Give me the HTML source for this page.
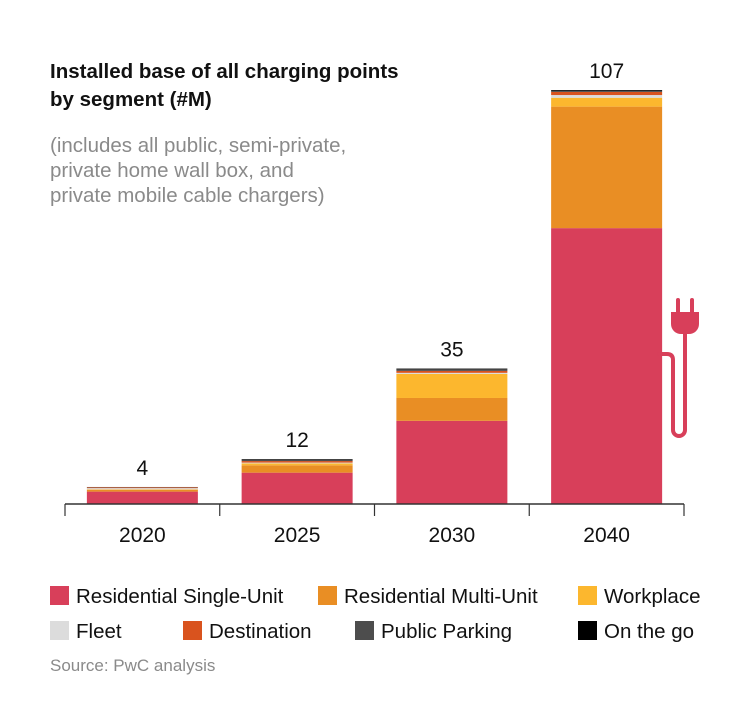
<!DOCTYPE html>
<html><head><meta charset="utf-8"><style>
body{margin:0;background:#fff;font-family:"Liberation Sans",Arial,sans-serif;}
#wrap{position:relative;width:730px;height:705px;overflow:hidden;}
.t{position:absolute;white-space:nowrap;}
</style></head><body>
<div id="wrap">
<div class="t" style="left:50px;top:58px;font-size:20.5px;font-weight:bold;line-height:28px;color:#111;">Installed base of all charging points<br>by segment (#M)</div>
<div class="t" style="left:50px;top:133px;font-size:20.5px;line-height:25px;color:#8a8a8a;">(includes all public, semi-private,<br>private home wall box, and<br>private mobile cable chargers)</div>
<svg id="chart" width="730" height="705" style="position:absolute;left:0;top:0"></svg>
<div class="t" style="left:50px;top:656px;font-size:17px;color:#8a8a8a;">Source: PwC analysis</div>
</div>
<script>
const years=["2020","2025","2030","2040"];
const totals=[4,12,35,107];
const residentialSingle=[3.2,8.1,21.5,71.3];
const residentialMulti=[0.5,1.9,5.9,31.4];
const workplace=[0.1,0.5,6.2,2.3];
const fleet=[0.3,0.2,0.3,0.7];
const destination=[0.2,0.4,0.5,0.8];
const publicParking=[0.1,0.4,0.4,0.3];
const onTheGo=[0.0,0.1,0.2,0.2];
const seriesNames=["Residential Single-Unit","Residential Multi-Unit","Workplace","Fleet","Destination","Public Parking","On the go"];
const seriesColors=["#d83f5a","#e98e24","#fcb72e","#dcdcdc","#d9531e","#4d4d4d","#000000"];
const seriesData=[residentialSingle,residentialMulti,workplace,fleet,destination,publicParking,onTheGo];
const NS="http://www.w3.org/2000/svg";
const svg=document.getElementById('chart');
const baseY=504, pxPerUnit=414/107;
const y=v=>baseY-v*pxPerUnit;
const x0=65, band=154.75, barW=111;
const bx=i=>x0+i*band+(band-barW)/2;
function mk(tag,attrs){const e=document.createElementNS(NS,tag);for(const k in attrs)e.setAttribute(k,attrs[k]);svg.appendChild(e);return e;}
years.forEach((yr,i)=>{
  let cum=0;
  seriesData.forEach((s,j)=>{
    const v=s[i];
    const r=mk('rect',{x:bx(i),y:y(cum+v),width:barW,height:v*pxPerUnit,fill:seriesColors[j]});
    
    
    cum+=v;
  });
  const t=mk('text',{x:bx(i)+barW/2,y:y(cum)-12,'text-anchor':'middle','font-size':'21','fill':'#111'});
  t.textContent=totals[i];
  
  
  const xl=mk('text',{x:bx(i)+barW/2,y:542,'text-anchor':'middle','font-size':'21','fill':'#111'});
  xl.textContent=yr;
  
  
});
const ax=mk('line',{x1:x0,x2:x0+4*band,y1:baseY,y2:baseY,stroke:'#333','stroke-width':1.5});


for(let i=0;i<=4;i++){
  const tk=mk('line',{x1:x0+i*band,x2:x0+i*band,y1:baseY,y2:baseY+12,stroke:'#333','stroke-width':1.2});
  
  
}
const g=document.createElementNS(NS,'g');svg.appendChild(g);


g.innerHTML='<rect x="676" y="298" width="4" height="16" rx="2" fill="#d83f5a"/><rect x="690" y="298" width="4" height="16" rx="2" fill="#d83f5a"/><path d="M671 312 h28 v12 a10 10 0 0 1 -10 10 h-8 a10 10 0 0 1 -10 -10 z" fill="#d83f5a"/><path d="M685 334 v18 M685 352 v78 a6 6 0 0 1 -12 0 v-70 q0 -6 -6 -6 h-8" fill="none" stroke="#d83f5a" stroke-width="4" stroke-linecap="round"/>';
const legPos=[[50,596],[318,596],[578,596],[50,631],[183,631],[355,631],[578,631]];
seriesNames.forEach((n,j)=>{
  const lx=legPos[j][0], ly=legPos[j][1];
  const r=mk('rect',{x:lx,y:ly-10,width:19,height:19,fill:seriesColors[j]});
  
  
  const t=mk('text',{x:lx+26,y:ly+7,'font-size':'20.5','fill':'#111'});
  t.textContent=n;
  
  
});
</script>
</body></html>
